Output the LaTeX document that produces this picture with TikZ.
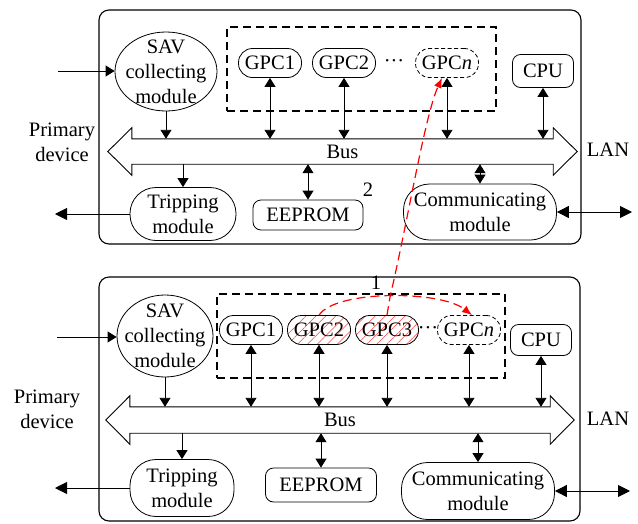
\documentclass[tikz,border=0pt]{standalone}
\usepackage{fontspec}
\setmainfont{Liberation Serif}
\usetikzlibrary{arrows.meta,calc,patterns.meta,shapes.geometric}

% outline of a double-headed bus arrow around the shaft node #1
\newcommand\drawbus[1]{%
  \draw[busline] (#1.north west) -- (#1.north east) -- ++(0,-11)
    -- ($(#1.east)+(24,0)$) -- ($(#1.south east)+(0,11)$)
    -- (#1.south east) -- (#1.south west) -- ++(0,11)
    -- ($(#1.west)+(-24,0)$) -- ($(#1.north west)+(0,-11)$) -- cycle;}

\begin{document}
\begin{tikzpicture}[x=1pt,y=-1pt,
  every node/.style={font=\fontsize{20.5}{25}\selectfont, inner sep=0pt},
  device/.style={draw, line width=1.1pt, rounded corners=10pt},
  group/.style={draw, line width=1.1pt, dash pattern=on 8pt off 5pt},
  gpc/.style={draw, line width=0.8pt, rounded corners=14pt,
    minimum width=63pt, minimum height=29pt},
  gpcdash/.style={gpc, dash pattern=on 4pt off 2.5pt},
  hatched/.style={pattern={Lines[angle=45,distance=7pt,line width=0.55pt]},
    pattern color=red!75},
  unit/.style={draw, line width=0.8pt, rounded corners=8pt},
  pill/.style={draw, line width=0.8pt, rounded corners=26pt, align=center},
  sav/.style={draw, ellipse, line width=0.8pt},
  busline/.style={draw, line width=0.9pt, line join=miter},
  tip/.tip={Triangle[length=9pt,width=11pt]},
  bigtip/.tip={Triangle[length=12pt,width=12pt]},
  link/.style={line width=0.9pt, -tip},
  dlink/.style={line width=0.9pt, tip-tip},
  hlink/.style={line width=0.9pt, -bigtip},
  dhlink/.style={line width=0.9pt, bigtip-bigtip},
  redlink/.style={draw=red, line width=1.2pt, dash pattern=on 9pt off 5pt,
    -{Latex[length=10pt,width=8pt]}}
]
\useasboundingbox (0,0) rectangle (638,523);

% ---------------- device 2 (upper) ----------------
\node[device, minimum width=482pt, minimum height=234pt] (devA) at (340,127) {};
\node[group, minimum width=269pt, minimum height=84pt] (grpA) at (361.5,69) {};
\node[sav, minimum width=102pt, minimum height=79pt] (savA) at (166,71.5) {};
\node[align=center] (savAtext) at (savA) {SAV\\collecting\\module};
\node[gpc] (gpc1A) at (270,63) {GPC1};
\node[gpc] (gpc2A) at (344,63) {GPC2};
\node (dotsA) at (394,63) {···};
\node[gpcdash] (gpcnA) at (447,63) {GPC\textit{n}};
\node[unit, minimum width=61pt, minimum height=33pt] (cpuA) at (543,71) {CPU};
\node[minimum width=421pt, minimum height=25pt] (busA) at (342.5,151.5) {Bus};
\drawbus{busA}
\node[pill, minimum width=106pt, minimum height=53pt] (tripA) at (183,214)
  {Tripping\\module};
\node[unit, minimum width=110pt, minimum height=30pt] (eepA) at (308,215) {EEPROM};
\node[pill, minimum width=153pt, minimum height=56pt] (commA) at (480,212)
  {Communicating\\module};
\node[align=center] (pdA) at (62,142) {Primary\\device};
\node (lanA) at (608,150) {LAN};
\node (mark2) at (368,190) {2};
\coordinate (inA) at (58,71);
\coordinate (outA) at (55,215);
\coordinate (netA) at (632,211);

\draw[link] (inA) -- (inA -| savA.west);
\draw[link] (savA) -- (savA |- busA.north);
\draw[dlink] (gpc1A) -- (gpc1A |- busA.north);
\draw[dlink] (gpc2A) -- (gpc2A |- busA.north);
\draw[dlink] (gpcnA) -- (gpcnA |- busA.north);
\draw[dlink] (cpuA) -- (cpuA |- busA.north);
\draw[link] (busA.south -| tripA) -- (tripA);
\draw[dlink] (busA.south -| eepA) -- (eepA);
\draw[dlink] (busA.south -| commA) -- (commA);
\draw[hlink] (tripA.west) -- (tripA.west -| outA);
\draw[dhlink] (commA.east) -- (commA.east -| netA);

% ---------------- device 1 (lower) ----------------
\node[device, minimum width=481pt, minimum height=244pt] (devB) at (339.5,399) {};
\node[group, minimum width=288pt, minimum height=84pt] (grpB) at (361,336) {};
\node[sav, minimum width=96pt, minimum height=82pt] (savB) at (165,336) {};
\node[align=center] (savBtext) at (savB) {SAV\\collecting\\module};
\node[gpc] (gpc1B) at (251,330) {GPC1};
\node[gpc, hatched] (gpc2B) at (319,330) {GPC2};
\node[gpc, hatched] (gpc3B) at (387,330) {GPC3};
\node (dotsB) at (428,330) {···};
\node[gpcdash] (gpcnB) at (469,330) {GPC\textit{n}};
\node[unit, minimum width=61pt, minimum height=31pt] (cpuB) at (541,340) {CPU};
\node[minimum width=420pt, minimum height=26pt] (busB) at (340,420) {Bus};
\drawbus{busB}
\node[pill, minimum width=104pt, minimum height=57pt] (tripB) at (182,488)
  {Tripping\\module};
\node[unit, minimum width=111pt, minimum height=34pt] (eepB) at (321,485) {EEPROM};
\node[pill, minimum width=153pt, minimum height=57pt] (commB) at (478,491)
  {Communicating\\module};
\node[align=center] (pdB) at (47,409) {Primary\\device};
\node (lanB) at (608,419) {LAN};
\node (mark1) at (376,283) {1};
\coordinate (inB) at (57,337);
\coordinate (outB) at (55,486);
\coordinate (netB) at (630,492);

\draw[link] (inB) -- (inB -| savB.west);
\draw[link] (savB) -- (savB |- busB.north);
\draw[dlink] (gpc1B) -- (gpc1B |- busB.north);
\draw[dlink] (gpc2B) -- (gpc2B |- busB.north);
\draw[dlink] (gpc3B) -- (gpc3B |- busB.north);
\draw[dlink] (gpcnB) -- (gpcnB |- busB.north);
\draw[dlink] (cpuB) -- (cpuB |- busB.north);
\draw[link] (busB.south -| tripB) -- (tripB);
\draw[dlink] (busB.south -| eepB) -- (eepB);
\draw[dlink] (busB.south -| commB) -- (commB);
\draw[hlink] (tripB.west) -- (tripB.west -| outB);
\draw[dhlink] (commB.east) -- (commB.east -| netB);

% ---------------- task migration paths ----------------
\draw[redlink] (gpc2B.north) .. controls (335,290) and (440,290)
  .. ([xshift=3pt]gpcnB.north);
\draw[redlink] (gpc3B.north) -- ++(3,-18)
  .. controls (408,220) and (425,115) .. ([xshift=-5pt]gpcnA.south);
\end{tikzpicture}
\end{document}
